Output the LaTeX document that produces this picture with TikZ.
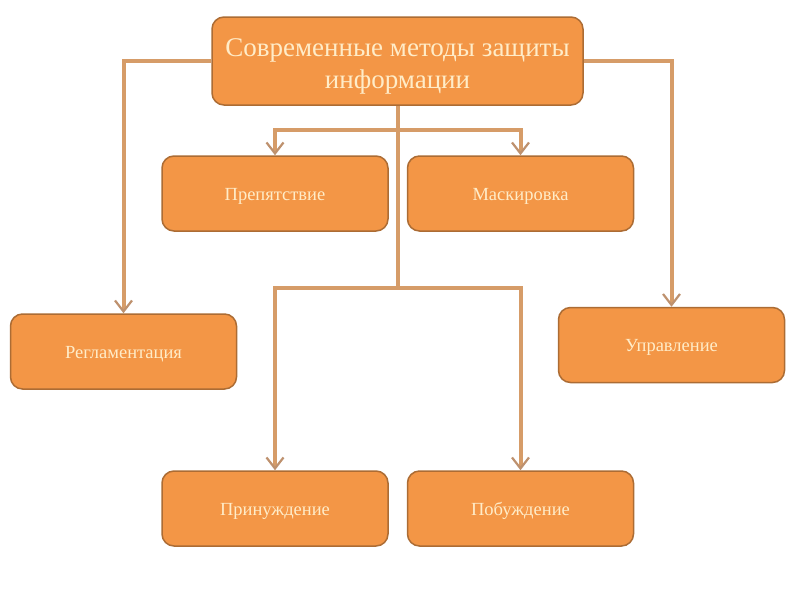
\documentclass[tikz,border=0pt]{standalone}
\usepackage{fontspec}
\setmainfont{Liberation Serif}
\usetikzlibrary{arrows.meta}
\definecolor{boxfill}{RGB}{243,150,70}
\definecolor{boxline}{RGB}{172,108,52}
\definecolor{linec}{RGB}{214,156,104}
\definecolor{tipc}{RGB}{190,145,110}
\definecolor{txtc}{RGB}{255,236,200}
\tikzset{
  box/.style={draw=boxline, fill=boxfill, line width=1.5pt, rounded corners=12pt,
    text=txtc, align=center, font=\fontsize{18.5}{22}\selectfont,
    minimum width=226pt, minimum height=75pt, text height=15pt, text depth=2pt},
  toptxt/.style={text=txtc, align=center, font=\fontsize{27}{32}\selectfont},
  conn/.style={draw=linec, line width=4pt},
  arr/.style={conn, -{Straight Barb[length=11pt,width=17pt,line width=2.2pt,color=tipc]}}
}
\begin{document}
\begin{tikzpicture}[x=1pt,y=-1pt]
\useasboundingbox (0,0) rectangle (800,600);
\fill[white] (0,0) rectangle (800,600);
\node[draw=boxline, fill=boxfill, line width=1.5pt, rounded corners=12pt, minimum width=371pt, minimum height=88pt] (top) at (397.5,61) {};
\node[toptxt] (toptext) at (397.5,66) {Современные методы защиты\\информации};
\node[box] (prep) at (275,193.5) {Препятствие};
\node[box] (mask) at (520.5,193.5) {Маскировка};
\node[box] (reg) at (123.5,351.5) {Регламентация};
\node[box] (upr) at (671.5,345) {Управление};
\node[box] (prin) at (275,508.5) {Принуждение};
\node[box] (pob) at (520.5,508.5) {Побуждение};
\coordinate (j1) at (397.5,130);
\coordinate (j2) at (397.5,288);
\draw[conn] (top.south) -- (j2);
\draw[arr] (j1) -| (prep.north);
\draw[arr] (j1) -| (mask.north);
\draw[arr] (j2) -| (prin.north);
\draw[arr] (j2) -| (pob.north);
\draw[arr] (top.west) -| (reg.north);
\draw[arr] (top.east) -| (upr.north);
\end{tikzpicture}
\end{document}
